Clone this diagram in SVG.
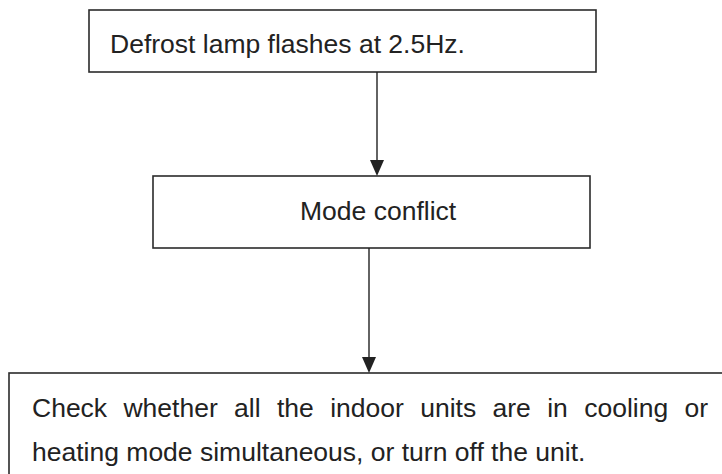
<svg xmlns="http://www.w3.org/2000/svg" width="722" height="474" viewBox="0 0 722 474">
  <style>
    .box { fill: #ffffff; stroke: #2b2b2b; stroke-width: 1.6; }
    .lbl { font-family: "Liberation Sans", Arial, sans-serif; font-size: 26.5px; fill: #222222; }
    .wire { stroke: #222222; stroke-width: 1.4; fill: none; }
    .head { fill: #222222; }
  </style>
  <rect width="722" height="474" fill="#ffffff"/>

  <g id="node-defrost">
    <rect class="box" x="89" y="10" width="507" height="62"/>
    <text class="lbl" x="110" y="53">Defrost lamp flashes at 2.5Hz.</text>
  </g>

  <g id="node-mode-conflict">
    <rect class="box" x="153" y="176" width="437" height="72"/>
    <text class="lbl" x="300" y="220">Mode conflict</text>
  </g>

  <g id="node-check">
    <rect class="box" x="9" y="373" width="720" height="110"/>
    <text class="lbl" x="32" y="417" word-spacing="9">Check whether all the indoor units are in cooling or</text>
    <text class="lbl" x="32" y="461">heating mode simultaneous, or turn off the unit.</text>
  </g>

  <g id="connectors">
    <line class="wire" x1="377" y1="72" x2="377" y2="162"/>
    <path class="head" d="M370,160 L384,160 L377,176 Z"/>
    <line class="wire" x1="369" y1="248" x2="369" y2="359"/>
    <path class="head" d="M362,357 L376,357 L369,373 Z"/>
  </g>
</svg>
